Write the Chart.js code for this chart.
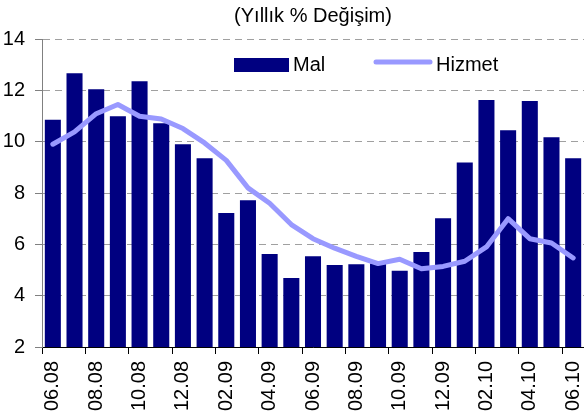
<!DOCTYPE html>
<html>
<head>
<meta charset="utf-8">
<script src="https://cdn.jsdelivr.net/npm/chart.js@4.4.0/dist/chart.umd.min.js"></script>
<style>
  body { margin: 0; background: #fff; }
</style>
</head>
<body>
<canvas id="chart" width="584" height="419"></canvas>
<script>
var months = ["06.08", "07.08", "08.08", "09.08", "10.08", "11.08", "12.08",
  "01.09", "02.09", "03.09", "04.09", "05.09", "06.09", "07.09", "08.09",
  "09.09", "10.09", "11.09", "12.09", "01.10", "02.10", "03.10", "04.10",
  "05.10", "06.10"];
var mal = [10.85, 12.67, 12.04, 10.99, 12.35, 10.72, 9.9, 9.35, 7.22, 7.72,
  5.62, 4.69, 5.54, 5.19, 5.22, 5.25, 4.97, 5.7, 7.02, 9.19, 11.62, 10.44,
  11.58, 10.17, 9.35];
var hizmet = [9.9, 10.38, 11.09, 11.45, 10.99, 10.88, 10.51, 9.95, 9.27, 8.2,
  7.6, 6.77, 6.22, 5.85, 5.53, 5.25, 5.42, 5.05, 5.14, 5.34, 5.9, 7.0, 6.22,
  6.05, 5.47];
var yMin = 2, yMax = 14, yStep = 2;

var font = { family: '"Liberation Sans", Arial, sans-serif', size: 20 };
Chart.defaults.font.family = font.family;

// legend sits inside the plot, drawn by hand
var insideLegend = {
  id: 'insideLegend',
  afterDraw: function(chart) {
    var ctx = chart.ctx;
    var ds = chart.data.datasets;
    ctx.save();
    ctx.font = '20px ' + font.family;
    ctx.textBaseline = 'middle';
    ctx.fillStyle = ds[0].backgroundColor;
    ctx.fillRect(234, 58, 55, 14);
    ctx.fillStyle = '#000';
    ctx.fillText(ds[0].label, 293, 65);
    ctx.strokeStyle = ds[1].borderColor;
    ctx.lineWidth = 5;
    ctx.lineCap = 'round';
    ctx.beginPath();
    ctx.moveTo(376, 62);
    ctx.lineTo(430, 62);
    ctx.stroke();
    ctx.fillStyle = '#000';
    ctx.fillText(ds[1].label, 436, 65);
    ctx.restore();
  }
};

var everyOther = function(c) {
  return c.index % 2 === 0 ? '#000' : 'rgba(0,0,0,0)';
};

new Chart(document.getElementById("chart").getContext('2d'), {
  type : 'bar',
  data : {
    labels : months,
    datasets : [ {
      type : 'bar',
      label : "Mal",
      data : mal,
      backgroundColor : "#000080",
      borderWidth : 0,
      barPercentage : 0.74,
      categoryPercentage : 1,
      order : 2
    }, {
      type : 'line',
      label : "Hizmet",
      data : hizmet,
      borderColor : "#9999FF",
      backgroundColor : "#9999FF",
      borderWidth : 5,
      pointRadius : 0,
      tension : 0,
      borderJoinStyle : 'round',
      borderCapStyle : 'round',
      order : 1
    } ]
  },
  options : {
    responsive : false,
    animation : false,
    layout : { padding : 0 },
    plugins : {
      legend : { display : false },
      tooltip : { enabled : false },
      title : {
        display : true,
        text : "(Yıllık % Değişim)",
        color : '#000',
        fullSize : false,
        font : { family : font.family, size : 20, weight : 'normal' },
        padding : { top : 4, bottom : 11 }
      }
    },
    scales : {
      x : {
        // plot runs right up to the canvas edge, no room kept for end labels
        afterFit : function(s) {
          s.paddingLeft = 0;
          s.paddingRight = 0;
          s.height = 72;
        },
        grid : {
          offset : true,
          drawOnChartArea : false,
          tickLength : 7,
          color : everyOther,
          tickColor : everyOther
        },
        border : { color : '#000', width : 1 },
        ticks : {
          autoSkip : false,
          maxRotation : 90,
          minRotation : 90,
          padding : 7,
          color : '#000',
          font : font,
          callback : function(v, i) { return i % 2 === 0 ? months[i] : ''; }
        }
      },
      y : {
        afterFit : function(s) { s.width = 42; },
        min : yMin,
        max : yMax,
        grid : { color : '#a0a0a0', tickColor : '#808080', tickLength : 7 },
        border : { color : '#808080', dash : [7, 5] },
        ticks : { stepSize : yStep, padding : 10, color : '#000', font : font }
      }
    }
  },
  plugins : [insideLegend]
});
</script>
</body>
</html>
